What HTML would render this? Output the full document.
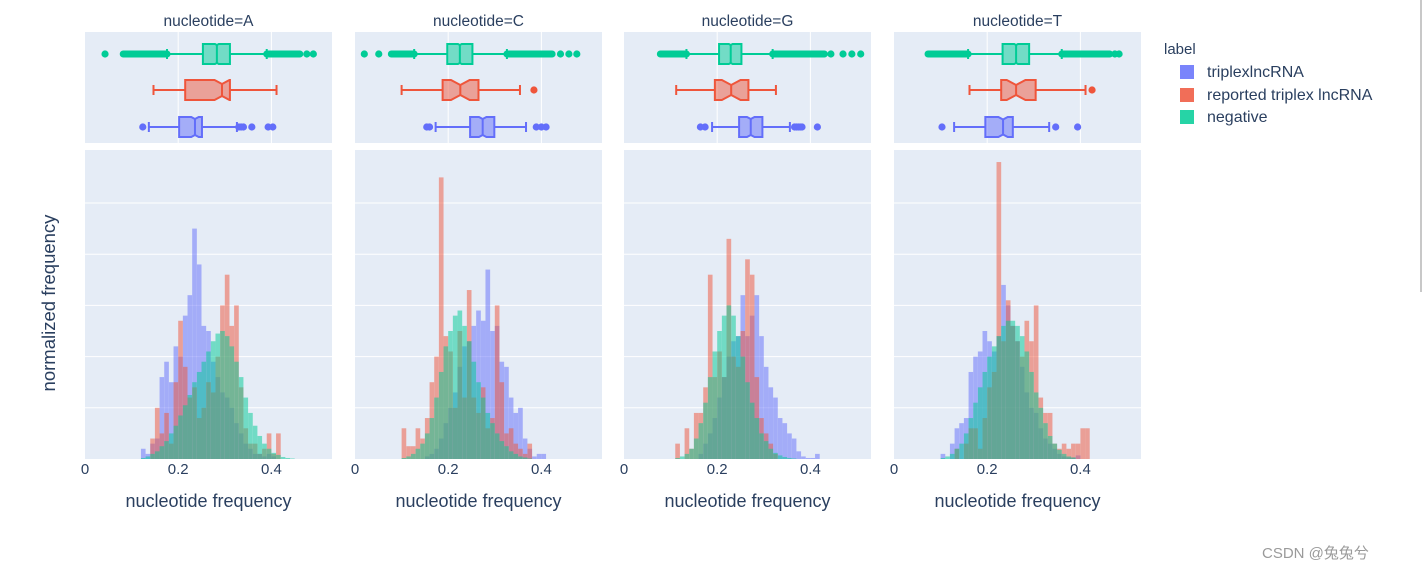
<!DOCTYPE html>
<html><head><meta charset="utf-8">
<style>
html,body{margin:0;padding:0;background:#fff;}
svg{display:block;font-family:"Liberation Sans","Noto Sans CJK SC",sans-serif;}
</style></head>
<body>
<svg id="chart" width="1423" height="571" viewBox="0 0 1423 571" xmlns="http://www.w3.org/2000/svg"></svg>
<script>
// ---- data ----
const nucleotides = ["A","C","G","T"];
const seriesNames = ["triplexlncRNA","reported triplex lncRNA","negative"];
const binStart = 0.08; const binWidth = 0.01;
const xTicks = [0, 0.2, 0.4];
const xTickLabels = ["0","0.2","0.4"];
// histogram heights (normalized, one unit = one gridline), bins 0.08..0.47
const histBlueA = [0,0,0,0,0.2,0.1,0.3,0.4,1.6,1.9,1.5,2.2,2.0,2.8,3.2,4.5,3.8,2.6,2.5,1.9,1.6,1.3,1.2,1.0,0.7,0.5,0.3,0.2,0.1,0.1,0.05,0.1,0.05,0,0,0,0,0,0,0];
const histRedA = [0,0,0,0,0,0,0.4,1.0,0.5,0.9,0.3,1.5,2.7,1.8,1.2,1.4,0.8,1.0,1.5,1.3,2.0,3.0,3.6,2.6,3.0,1.4,0.6,0.3,0.3,0.1,0.2,0.5,0.1,0.5,0,0,0,0,0,0];
const histGreenA = [0,0,0,0,0.02,0.05,0.1,0.15,0.25,0.35,0.5,0.65,0.85,1.05,1.25,1.5,1.7,1.9,2.1,2.3,2.45,2.5,2.4,2.2,1.9,1.6,1.2,0.9,0.65,0.45,0.3,0.2,0.12,0.08,0.04,0.02,0.01,0,0,0];
const histBlueC = [0,0,0,0,0,0,0,0.05,0.1,0.2,0.4,0.7,1.0,1.3,1.8,2.2,2.3,2.6,2.9,2.7,3.7,2.5,2.6,1.9,1.8,1.2,0.9,1.0,0.4,0.2,0.05,0.1,0.1,0,0,0,0,0,0,0];
const histRedC = [0,0,0.6,0.25,0.25,0.6,0.4,0.8,1.5,2.0,5.5,2.4,2.1,1.0,2.5,1.2,3.3,1.2,0.9,1.4,0.6,0.8,3.0,1.5,0.5,0.6,0.3,0.2,0.1,0.3,0,0,0,0,0,0,0,0,0,0];
const histGreenC = [0,0,0.02,0.05,0.1,0.2,0.3,0.5,0.8,1.2,1.7,2.2,2.5,2.8,2.9,2.6,2.3,1.9,1.5,1.2,0.9,0.7,0.5,0.35,0.25,0.15,0.1,0.05,0.03,0.01,0,0,0,0,0,0,0,0,0,0];
const histBlueG = [0,0,0,0,0,0,0,0,0.1,0.3,0.5,0.8,1.2,1.6,2.0,2.3,2.4,3.2,2.4,2.8,3.2,2.4,1.8,1.4,1.2,0.8,0.7,0.5,0.4,0.15,0.05,0.02,0.02,0.1,0,0,0,0,0,0];
const histRedG = [0,0,0,0.3,0,0.6,0.2,0.9,0.9,1.4,3.6,1.6,2.1,1.6,4.3,2.0,1.8,2.5,3.9,3.6,1.6,0.8,0.5,0.3,0.1,0,0,0,0,0,0,0,0,0,0,0,0,0,0,0];
const histGreenG = [0,0,0,0.02,0.05,0.1,0.2,0.4,0.7,1.1,1.6,2.1,2.5,2.8,3.0,2.8,2.4,2.0,1.5,1.1,0.8,0.5,0.35,0.2,0.12,0.07,0.04,0.02,0.01,0,0,0,0,0,0,0,0,0,0,0];
const histBlueT = [0,0,0.1,0,0.3,0.6,0.7,0.8,1.7,2.0,2.1,2.5,2.3,2.1,2.4,3.4,3.0,2.6,2.3,1.8,1.3,1.0,0.9,0.6,0.4,0.3,0.2,0.1,0.05,0.03,0.03,0.07,0,0,0,0,0,0,0,0];
const histRedT = [0,0,0,0,0,0.2,0,0.3,0.6,0.6,0.2,0.8,1.4,1.7,5.8,2.3,3.1,2.6,2.3,2.0,2.7,2.3,3.0,1.2,0.9,0.9,0.3,0.2,0.3,0.2,0.3,0.3,0.6,0.6,0,0,0,0,0,0];
const histGreenT = [0,0,0.02,0.05,0.1,0.2,0.3,0.5,0.8,1.1,1.4,1.7,2.0,2.2,2.4,2.6,2.7,2.7,2.6,2.4,2.1,1.7,1.3,1.0,0.7,0.45,0.3,0.18,0.1,0.05,0.03,0,0,0,0,0,0,0,0,0];
// box stats [whiskerLow, q1, median, q3, whiskerHigh, notchHalf]
const boxBlue = [[0.137,0.202,0.236,0.251,0.326,0.008],[0.173,0.247,0.274,0.299,0.367,0.008],[0.189,0.247,0.272,0.297,0.356,0.008],[0.129,0.196,0.234,0.255,0.333,0.010]];
const boxRed = [[0.147,0.215,0.294,0.311,0.411,0.016],[0.100,0.188,0.226,0.265,0.354,0.020],[0.112,0.195,0.230,0.267,0.326,0.020],[0.162,0.230,0.262,0.304,0.411,0.020]];
const boxGreen = [[0.176,0.253,0.283,0.311,0.390,0.004],[0.127,0.198,0.225,0.252,0.326,0.004],[0.134,0.204,0.229,0.252,0.319,0.004],[0.159,0.233,0.262,0.290,0.360,0.004]];
// outliers: individual points and dense runs [lo,hi]
const outBlue = [[0.124,0.33,0.335,0.34,0.358,0.393,0.403],[0.154,0.16,0.389,0.40,0.41],[0.164,0.174,0.366,0.37,0.374,0.378,0.382,0.415],[0.103,0.347,0.394]];
const outRed = [[],[0.384],[],[0.425]];
const outGreen = [[0.043,0.476,0.49],[0.02,0.051,0.441,0.459,0.476],[0.444,0.47,0.489,0.508],[0.474,0.483]];
const runGreen = [[[0.082,0.176],[0.39,0.461]],[[0.078,0.127],[0.326,0.423]],[[0.078,0.134],[0.319,0.43]],[[0.073,0.159],[0.36,0.463]]];

const histBlue = [histBlueA,histBlueC,histBlueG,histBlueT];
const histRed = [histRedA,histRedC,histRedG,histRedT];
const histGreen = [histGreenA,histGreenC,histGreenG,histGreenT];

// ---- layout ----
const panelX = [85,355,624,894];
const panelW = 247;
const pxPerUnit = 466;
const boxTop = 32, boxBot = 143, histTop = 150, histBase = 459, unitPx = 51.2;
const rowY = [127, 90, 54]; // blue, red, green
const colors = ["#636efa","#ef553b","#00cc96"];
const fills = ["rgba(99,110,250,0.5)","rgba(239,85,59,0.5)","rgba(0,204,150,0.5)"];

const svg = document.getElementById('chart');
const NS = "http://www.w3.org/2000/svg";
function mk(tag, attrs, parent){
  const e = document.createElementNS(NS, tag);
  for (const k in attrs) e.setAttribute(k, attrs[k]);
  (parent||svg).appendChild(e);
  return e;
}
function xScale(p, v){ return panelX[p] + v * pxPerUnit; }
function yHist(h){ return histBase - h * unitPx; }

for (let p = 0; p < 4; p++){
  const g = mk('g', {});
  
  

  const bb = mk('rect', {x:panelX[p], y:boxTop, width:panelW, height:boxBot-boxTop, fill:'#e5ecf6'}, g);
  
  
  const hb = mk('rect', {x:panelX[p], y:histTop, width:panelW, height:histBase-histTop, fill:'#e5ecf6'}, g);
  
  

  for (let k = 1; k <= 5; k++){
    const gl = mk('line', {x1:panelX[p], x2:panelX[p]+panelW, y1:yHist(k), y2:yHist(k), stroke:'#fff', 'stroke-width':1}, g);
    
    
  }
  for (let t = 1; t < xTicks.length; t++){
    const vl = mk('line', {x1:xScale(p,xTicks[t]), x2:xScale(p,xTicks[t]), y1:boxTop, y2:boxBot, stroke:'#fff', 'stroke-width':1}, g);
    
    
  }

  const hs = [histBlue[p], histRed[p], histGreen[p]];
  for (let s = 0; s < 3; s++){
    const hg = mk('g', {fill:colors[s], opacity:0.5}, g);
    
    
    hs[s].forEach((h, i) => {
      if (h <= 0) return;
      const x0 = xScale(p, binStart + i*binWidth), x1 = xScale(p, binStart + (i+1)*binWidth);
      const r = mk('rect', {x:x0, y:yHist(h), width:x1-x0, height:histBase-yHist(h)}, hg);
      
      
    });
  }

  const stats = [boxBlue[p], boxRed[p], boxGreen[p]];
  const outs = [outBlue[p], outRed[p], outGreen[p]];
  for (let s = 0; s < 3; s++){
    const st = stats[s], cy = rowY[s], hh = 10;
    const bg = mk('g', {}, g);
    
    
    if (s === 2){
      runGreen[p].forEach(rg => {
        const rl = mk('line', {x1:xScale(p,rg[0]), x2:xScale(p,rg[1]), y1:cy, y2:cy, stroke:colors[s], 'stroke-width':7, 'stroke-linecap':'round'}, bg);
        
        
      });
    }
    const wl = mk('line', {x1:xScale(p,st[0]), x2:xScale(p,st[1]), y1:cy, y2:cy, stroke:colors[s], 'stroke-width':2}, bg);
    
    
    const wh = mk('line', {x1:xScale(p,st[3]), x2:xScale(p,st[4]), y1:cy, y2:cy, stroke:colors[s], 'stroke-width':2}, bg);
    
    
    [st[0], st[4]].forEach(v => {
      const c = mk('line', {x1:xScale(p,v), x2:xScale(p,v), y1:cy-5, y2:cy+5, stroke:colors[s], 'stroke-width':2}, bg);
      
      
    });
    const xq1 = xScale(p,st[1]), xq3 = xScale(p,st[3]), xm = xScale(p,st[2]);
    const xa = Math.max(xq1, xScale(p,st[2]-st[5])), xb = Math.min(xq3, xScale(p,st[2]+st[5]));
    const nh = hh*(1 - Math.min(0.5, st[5]*25));
    const pts = [[xq1,cy-hh],[xa,cy-hh],[xm,cy-nh],[xb,cy-hh],[xq3,cy-hh],[xq3,cy+hh],[xb,cy+hh],[xm,cy+nh],[xa,cy+hh],[xq1,cy+hh]];
    const bx = mk('polygon', {points:pts.map(q=>q.join(',')).join(' '), fill:fills[s], stroke:colors[s], 'stroke-width':2}, bg);
    
    
    const md = mk('line', {x1:xm, x2:xm, y1:cy-nh, y2:cy+nh, stroke:colors[s], 'stroke-width':2}, bg);
    
    
    outs[s].forEach(v => {
      const c = mk('circle', {cx:xScale(p,v), cy:cy, r:3.6, fill:colors[s]}, bg);
      
      
    });
  }

  const tt = mk('text', {x:panelX[p]+panelW/2, y:26, 'text-anchor':'middle', 'font-size':15.5, fill:'#2a3f5f'}, g);
  tt.textContent = 'nucleotide=' + nucleotides[p];
  
  

  xTicks.forEach((v, i) => {
    const tl = mk('text', {x:xScale(p,v), y:474, 'text-anchor':'middle', 'font-size':15, fill:'#2a3f5f'}, g);
    tl.textContent = xTickLabels[i];
    
    
  });
  const xt = mk('text', {x:panelX[p]+panelW/2, y:507, 'text-anchor':'middle', 'font-size':18, fill:'#2a3f5f'}, g);
  xt.textContent = 'nucleotide frequency';
  
  
}

const yt = mk('text', {x:0, y:0, transform:'translate(55,303) rotate(-90)', 'text-anchor':'middle', 'font-size':18.5, fill:'#2a3f5f'});
yt.textContent = 'normalized frequency';



const lg = mk('g', {});


const lt = mk('text', {x:1164, y:54, 'font-size':15, fill:'#2a3f5f'}, lg);
lt.textContent = 'label';


const legendY = [72, 95, 117];
for (let s = 0; s < 3; s++){
  const le = mk('g', {}, lg);
  
  
  mk('rect', {x:1180, y:legendY[s]-7, width:14, height:14, fill:colors[s], opacity:0.85}, le);
  const tx = mk('text', {x:1207, y:legendY[s]+5, 'font-size':16, fill:'#2a3f5f'}, le);
  tx.textContent = seriesNames[s];
}

const wm = mk('text', {x:1262, y:558, 'font-size':15, fill:'#9a9a9a'});
wm.textContent = 'CSDN @兔兔兮';


const edge = mk('line', {x1:1421, x2:1421, y1:0, y2:292, stroke:'#c8c8c8', 'stroke-width':2});


</script>
</body></html>
